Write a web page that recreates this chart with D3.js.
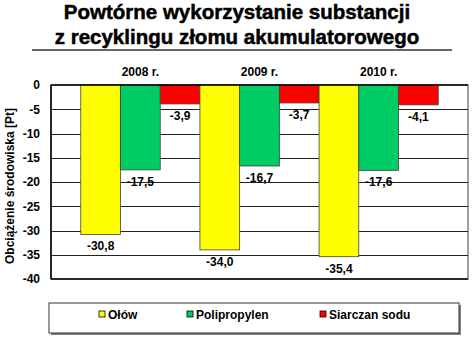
<!DOCTYPE html>
<html><head><meta charset="utf-8">
<script src="https://cdn.jsdelivr.net/npm/d3@7"></script>
<style>
html,body{margin:0;padding:0;background:#fff;}
svg{display:block;font-family:"Liberation Sans",Arial,sans-serif;font-weight:bold;}
</style></head>
<body>
<svg id="c" width="473" height="337"></svg>
<script>
const titleLines = ["Powtórne wykorzystanie substancji", "z recyklingu złomu akumulatorowego"];
const years = ["2008 r.", "2009 r.", "2010 r."];
const seriesNames = ["Ołów", "Polipropylen", "Siarczan sodu"];
const seriesColors = ["#FFFF00", "#00CC66", "#FF0000"];
const olow = [-30.8, -34.0, -35.4];
const polipropylen = [-17.5, -16.7, -17.6];
const siarczan = [-3.9, -3.7, -4.1];
const yTicks = [0, -5, -10, -15, -20, -25, -30, -35, -40];
const yLabel = "Obciążenie środowiska [Pt]";

const series = [olow, polipropylen, siarczan];
const svg = d3.select("#c");
const L = 51, R = 468, T = 85, B = 279;

// title
svg.selectAll("text.title").data(titleLines).join("text")
  .attr("class","title")
  .attr("x", 237).attr("y", (d,i)=> 19 + i*25)
  .attr("text-anchor","middle").attr("font-size", 20.5).attr("fill","#000")
  .attr("stroke","#000").attr("stroke-width",0.5)
  .text(d=>d);
svg.append("line").attr("x1",32).attr("x2",452).attr("y1",50).attr("y2",50)
  .attr("stroke","#333").attr("stroke-width",1.6);

const y = d3.scaleLinear().domain([-40, 0]).range([B, T]);
const x0 = d3.scaleBand().domain(years).range([L, R]).paddingInner(0).paddingOuter(0.25);
const x1 = d3.scaleBand().domain(d3.range(3)).range([0, x0.bandwidth()]).padding(0);

// plot border (right side gray)
svg.append("rect").attr("x",L).attr("y",T).attr("width",R-L).attr("height",B-T)
  .attr("fill","#fff").attr("stroke","#808080").attr("stroke-width",1.5);

// gridlines
svg.append("g").selectAll("line").data(yTicks.filter(t=>t!==0 && t!==-40)).join("line")
  .attr("x1",L).attr("x2",R).attr("y1",d=>Math.round(y(d))+0.5).attr("y2",d=>Math.round(y(d))+0.5)
  .attr("stroke","#222").attr("stroke-width",1);

// bars
const g = svg.append("g");
years.forEach((yr, ci) => {
  series.forEach((s, si) => {
    const v = s[ci];
    const bx = x0(yr) + x1(si);
    g.append("rect")
      .attr("x", bx).attr("y", y(0))
      .attr("width", x1.bandwidth()).attr("height", y(v) - y(0))
      .attr("fill", seriesColors[si]).attr("stroke","#404040").attr("stroke-width",0.8);
    g.append("text")
      .attr("x", bx + x1.bandwidth()/2).attr("y", y(v) + 16)
      .attr("text-anchor","middle").attr("font-size",12).attr("fill","#000")
      .text(d3.format(".1f")(v).replace("−","-").replace(".", ","));
  });
});

// axes lines
svg.append("line").attr("x1",L).attr("x2",L).attr("y1",T).attr("y2",B).attr("stroke","#000").attr("stroke-width",1.5);
svg.append("line").attr("x1",L).attr("x2",R).attr("y1",B).attr("y2",B).attr("stroke","#000").attr("stroke-width",1.5);
svg.append("line").attr("x1",L).attr("x2",R).attr("y1",T).attr("y2",T).attr("stroke","#000").attr("stroke-width",1.5);

// y axis labels
const yAxis = d3.axisLeft(y).tickValues(yTicks).tickSize(0).tickPadding(11).tickFormat(d=>d3.format("d")(d).replace("−","-"));
const ya = svg.append("g").attr("transform",`translate(${L},0)`).call(yAxis);
ya.select(".domain").remove();
ya.selectAll("text").attr("font-size",12).attr("font-family","Liberation Sans, Arial, sans-serif").attr("font-weight","bold").attr("fill","#000");

// category labels on top
svg.selectAll("text.cat").data(years).join("text").attr("class","cat")
  .attr("x", d=>x0(d)+x0.bandwidth()/2).attr("y", 76)
  .attr("text-anchor","middle").attr("font-size",12).attr("fill","#000").text(d=>d);

// y label
svg.append("text").attr("transform","translate(14,186) rotate(-90)")
  .attr("text-anchor","middle").attr("font-size",12).attr("fill","#000").text(yLabel);

// legend
svg.append("rect").attr("x",51).attr("y",305).attr("width",410).attr("height",30).attr("fill","#808080");
svg.append("rect").attr("x",49).attr("y",303).attr("width",410).attr("height",30).attr("fill","#fff").attr("stroke","#333").attr("stroke-width",1);
const legX = [99, 187, 320];
seriesNames.forEach((n,i)=>{
  svg.append("rect").attr("x",legX[i]).attr("y",311).attr("width",6).attr("height",6)
    .attr("fill",seriesColors[i]).attr("stroke","#000").attr("stroke-width",0.8);
  svg.append("text").attr("x",legX[i]+9).attr("y",319).attr("font-size",12).attr("fill","#000").text(n);
});
</script>
</body></html>
